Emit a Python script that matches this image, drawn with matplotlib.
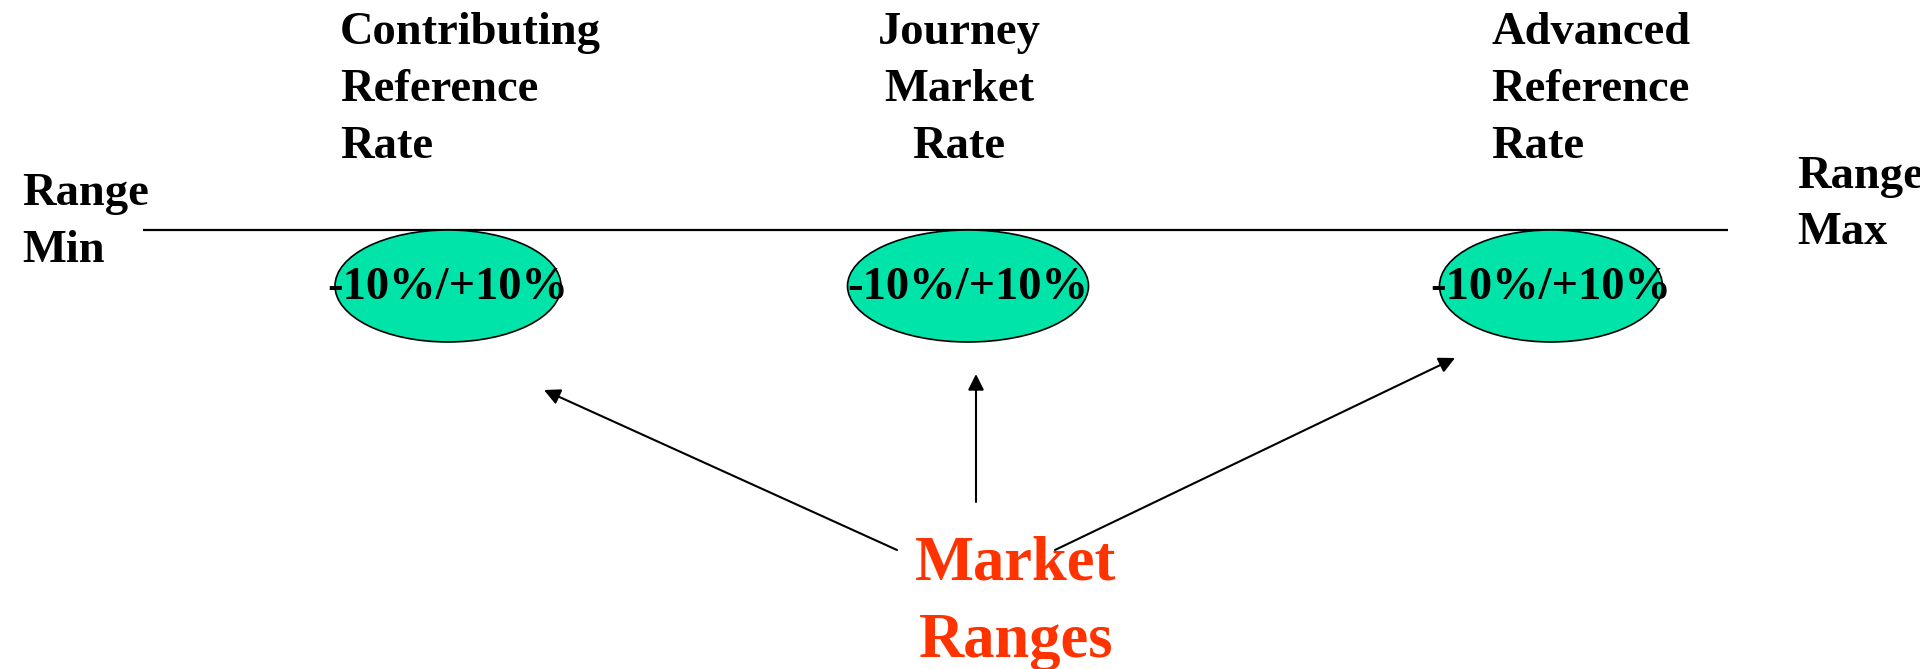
import matplotlib
matplotlib.use("Agg")
import matplotlib.pyplot as plt
from matplotlib.patches import Ellipse, FancyArrowPatch

# ---- content ----
header_labels = ["Contributing\nReference\nRate", "Journey\nMarket\nRate", "Advanced\nReference\nRate"]
band_labels = ["-10%/+10%", "-10%/+10%", "-10%/+10%"]
range_min_label = "Range\nMin"
range_max_label = "Range\nMax"
callout_label = "Market\nRanges"

# ---- layout (pixel space) ----
W, H = 1920, 669
FONT = "Liberation Serif"
ELLIPSE_COLOR = "#00E4AA"
RED = "#FF3300"

fig = plt.figure(figsize=(W / 100, H / 100), dpi=100)
ax = fig.add_axes([0, 0, 1, 1])
ax.set_xlim(0, W)
ax.set_ylim(H, 0)
ax.axis("off")


def draw_lines(text, x, y0, step, ha, size, color="black"):
    for i, line in enumerate(text.split("\n")):
        ax.text(x, y0 + i * step, line, ha=ha, va="baseline", fontsize=size,
                fontweight="bold", family=FONT, color=color, zorder=5)


# headers
header_x = [340, 959, 1491]
header_ha = ["left", "center", "left"]
for lab, x, ha in zip(header_labels, header_x, header_ha):
    draw_lines(lab, x, 44, 57, ha, 33.5)

# range min/max
draw_lines(range_min_label, 22, 205, 57, "left", 33.5)
draw_lines(range_max_label, 1797, 188, 56, "left", 33.5)

# main line
ax.plot([143, 1728], [230, 230], color="black", lw=1.6, solid_capstyle="butt", zorder=2)

# ellipses with band labels
ell_cx = [448, 968, 1551]
ell_w = [226, 241, 223]
for cx, w, lab in zip(ell_cx, ell_w, band_labels):
    ax.add_patch(Ellipse((cx, 286), w, 112, facecolor=ELLIPSE_COLOR,
                         edgecolor="black", lw=1.2, zorder=3))
    ax.text(cx, 299, lab, ha="center", va="baseline", fontsize=33.5,
            fontweight="bold", family=FONT, color="black", zorder=5)

# arrows
arrows = [((897, 550), (544, 390)), ((976, 502), (976, 374)), ((1055, 550), (1455, 358))]
for start, end in arrows:
    ax.add_patch(FancyArrowPatch(start, end, arrowstyle="-|>", mutation_scale=24,
                                 lw=1.5, color="black", shrinkA=0, shrinkB=0, zorder=4))

# callout
draw_lines(callout_label, 1016, 580, 77, "center", 45, color=RED)

fig.savefig("out.png", dpi=100)
